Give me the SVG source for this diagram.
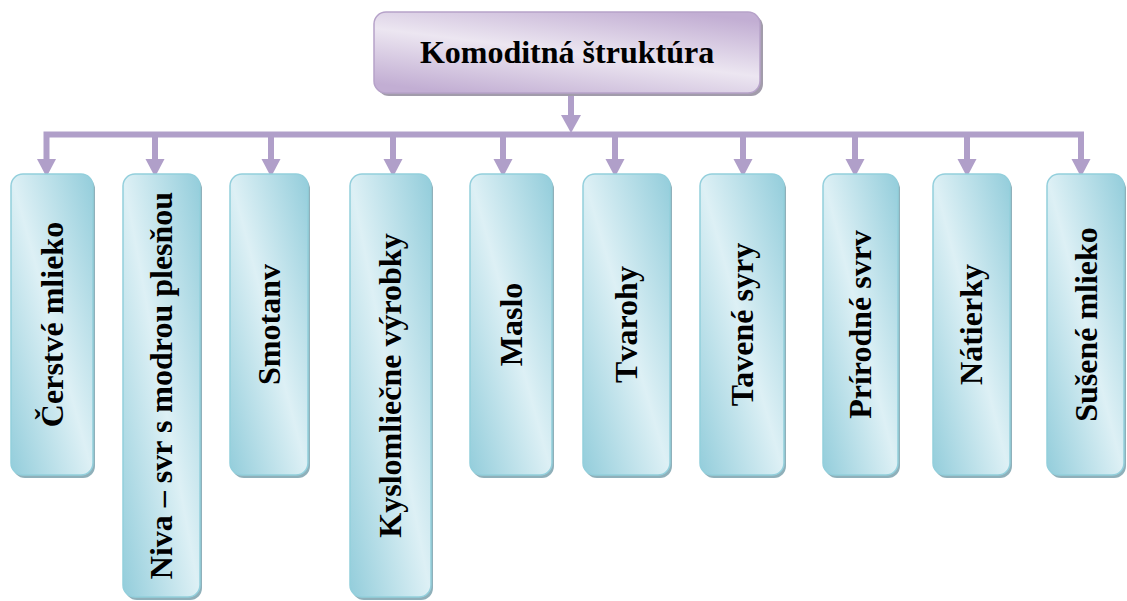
<svg xmlns="http://www.w3.org/2000/svg" width="1127" height="601" viewBox="0 0 1127 601">
<defs>
<linearGradient id="gBox" x1="1" y1="0" x2="0" y2="1">
<stop offset="0" stop-color="#93cddb"/>
<stop offset="0.5" stop-color="#ddf0f5"/>
<stop offset="1" stop-color="#93cddb"/>
</linearGradient>
<linearGradient id="gTop" x1="0.8" y1="0" x2="0.2" y2="1">
<stop offset="0" stop-color="#c2aed3"/>
<stop offset="0.5" stop-color="#ece6f1"/>
<stop offset="1" stop-color="#c2aed3"/>
</linearGradient>
</defs>
<style>
.box{fill:url(#gBox);stroke:#93cfdc;stroke-width:1.5}
.sh{fill:#8fb0ba}
.top{fill:url(#gTop);stroke:#b6a2c9;stroke-width:1.5}
.tsh{fill:#a29cab}
.lbl{font-family:"Liberation Serif","Times New Roman",serif;font-weight:bold;font-size:32px;fill:#000;text-anchor:middle}
.ln{stroke:#b09fc9;stroke-width:6;fill:none}
.ah{fill:#b09fc9}
</style>
<g id="connectors">
<path class="ln" d="M571 94V124"/>
<polygon class="ah" points="561,115 581,115 571,133"/>
<path class="ln" d="M46.5 160V134.5H1081V160"/>
<path class="ln" d="M155 134.5V160M271 134.5V160M393 134.5V160M503 134.5V160M615 134.5V160M743 134.5V160M855 134.5V160M967 134.5V160"/>
<g class="ah">
<polygon points="37,159 56,159 46.5,177"/>
<polygon points="145.5,159 164.5,159 155,177"/>
<polygon points="261.5,159 280.5,159 271,177"/>
<polygon points="383.5,159 402.5,159 393,177"/>
<polygon points="493.5,159 512.5,159 503,177"/>
<polygon points="605.5,159 624.5,159 615,177"/>
<polygon points="733.5,159 752.5,159 743,177"/>
<polygon points="845.5,159 864.5,159 855,177"/>
<polygon points="957.5,159 976.5,159 967,177"/>
<polygon points="1071.5,159 1090.5,159 1081,177"/>
</g>
</g>
<g id="n0">
<rect class="tsh" x="377" y="15" width="386" height="81" rx="12"/>
<rect class="top" x="374" y="12" width="386" height="81" rx="12"/>
<text class="lbl" x="567" y="63">Komoditná štruktúra</text>
</g>
<g id="n1">
<rect class="sh" x="13" y="177" width="82" height="301" rx="12"/>
<rect class="box" x="11" y="174" width="82" height="301" rx="12"/>
<text class="lbl" transform="translate(62.5 324.5) rotate(-90)">Čerstvé mlieko</text>
</g>
<g id="n2">
<rect class="sh" x="125" y="177" width="77" height="423" rx="12"/>
<rect class="box" x="123" y="174" width="77" height="423" rx="12"/>
<text class="lbl" transform="translate(172 385.5) rotate(-90)">Niva – svr s modrou plesňou</text>
</g>
<g id="n3">
<rect class="sh" x="232" y="177" width="78" height="301" rx="12"/>
<rect class="box" x="230" y="174" width="78" height="301" rx="12"/>
<text class="lbl" transform="translate(279.5 324.5) rotate(-90)">Smotanv</text>
</g>
<g id="n4">
<rect class="sh" x="352" y="177" width="81" height="423" rx="12"/>
<rect class="box" x="350" y="174" width="81" height="423" rx="12"/>
<text class="lbl" transform="translate(401 385.5) rotate(-90)">Kyslomliečne výrobky</text>
</g>
<g id="n5">
<rect class="sh" x="472" y="177" width="82" height="301" rx="12"/>
<rect class="box" x="470" y="174" width="82" height="301" rx="12"/>
<text class="lbl" transform="translate(521.5 324.5) rotate(-90)">Maslo</text>
</g>
<g id="n6">
<rect class="sh" x="585" y="177" width="87" height="301" rx="12"/>
<rect class="box" x="583" y="174" width="87" height="301" rx="12"/>
<text class="lbl" transform="translate(637 324.5) rotate(-90)">Tvarohy</text>
</g>
<g id="n7">
<rect class="sh" x="702" y="177" width="84" height="301" rx="12"/>
<rect class="box" x="700" y="174" width="84" height="301" rx="12"/>
<text class="lbl" transform="translate(752.5 324.5) rotate(-90)">Tavené syry</text>
</g>
<g id="n8">
<rect class="sh" x="825" y="177" width="75" height="301" rx="12"/>
<rect class="box" x="823" y="174" width="75" height="301" rx="12"/>
<text class="lbl" transform="translate(871 324.5) rotate(-90)">Prírodné svrv</text>
</g>
<g id="n9">
<rect class="sh" x="935" y="177" width="77" height="301" rx="12"/>
<rect class="box" x="933" y="174" width="77" height="301" rx="12"/>
<text class="lbl" transform="translate(982 324.5) rotate(-90)">Nátierky</text>
</g>
<g id="n10">
<rect class="sh" x="1049" y="177" width="77" height="301" rx="12"/>
<rect class="box" x="1047" y="174" width="77" height="301" rx="12"/>
<text class="lbl" transform="translate(1097 324.5) rotate(-90)">Sušené mlieko</text>
</g>
</svg>
